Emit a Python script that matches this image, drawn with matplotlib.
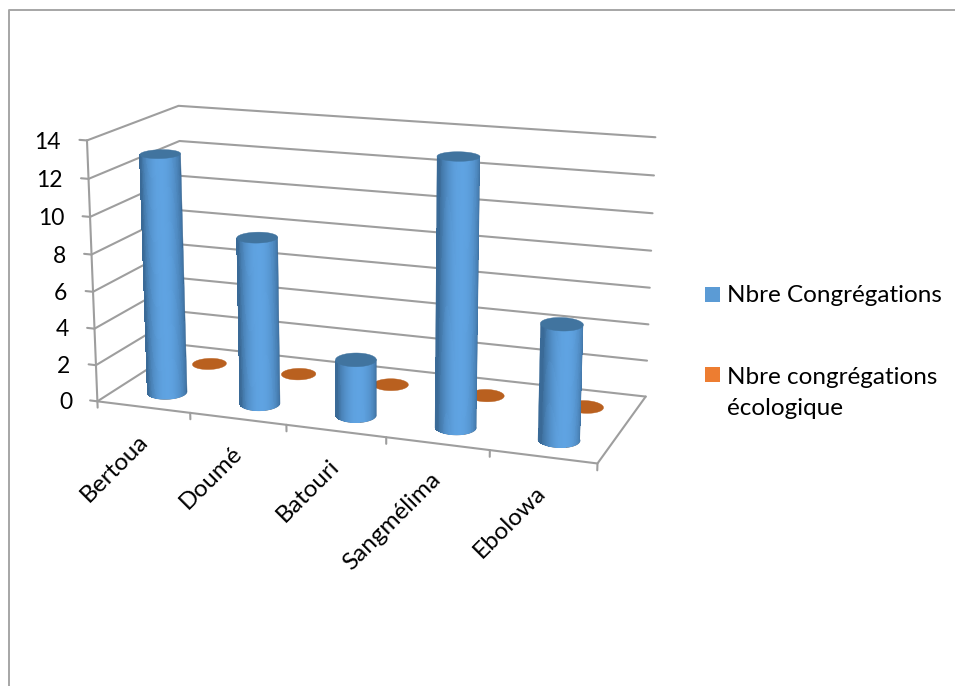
import numpy as np
import matplotlib
matplotlib.use('Agg')
import matplotlib.pyplot as plt
from matplotlib.lines import Line2D
from matplotlib.patches import Rectangle
from mpl_toolkits.mplot3d import proj3d
from mpl_toolkits.mplot3d.art3d import Poly3DCollection

categories = ['Bertoua', 'Doumé', 'Batouri', 'Sangmélima', 'Ebolowa']
congregations = [13, 9, 3, 14, 6]
ecologiques = [0, 0, 0, 0, 0]
value_ticks = [0, 2, 4, 6, 8, 10, 12, 14]
series_names = ['Nbre Congrégations', 'Nbre congrégations\nécologique']

plt.rcParams['font.family'] = ['Lato', 'DejaVu Sans']
W, H = 955, 686
fig = plt.figure(figsize=(W/100, H/100), dpi=100)
ax = fig.add_axes([63.3/W, 105.8/H, 601.7/W, 601.7/H], projection='3d', computed_zorder=False)
ax.set_xlim(0, 5); ax.set_ylim(0, 1); ax.set_zlim(0, 14)
ax.view_init(elev=14.9584, azim=-69.7665, roll=0.065)
ax.set_proj_type('persp', focal_length=0.594)
ax.set_box_aspect((1, 0.3954, 0.5184))
ax.set_axis_off()
ax.patch.set_alpha(0)

GREY = '#9e9e9e'
def line(xs, ys, zs):
    ax.plot(xs, ys, zs, color=GREY, lw=1.5, zorder=1, solid_capstyle='round', clip_on=False)

def label(x, y, z, s, **kw):
    u, v, _ = proj3d.proj_transform(x, y, z, ax.get_proj())
    ax.text2D(u, v, s, transform=ax.transData, color='black', clip_on=False, **kw)

for z in value_ticks:
    line([0, 0, 5], [0, 1, 1], [z, z, z])
    line([0, -0.08], [0, 0], [z, z])
    label(-0.28, 0, z - 0.22, str(z), ha='right', va='center', fontsize=16.5)
line([0, 0], [0, 0], [0, 14])
line([0, 5, 5], [0, 0, 1], [0, 0, 0])
n = len(categories)
for i in range(n + 1):
    line([i, i], [0, 0], [0, -0.35])
for i, c in enumerate(categories):
    label(i + 0.5, 0, -1.7, c, rotation=45, rotation_mode='anchor', ha='right', va='center', fontsize=17.5)

# axes of a disc lying on the floor whose outline is level on screen
def rim(cx, cy, t, a, b):
    return (cx + a*0.85*np.cos(t) - b*0.87*np.sin(t),
            cy + a*0.196*np.cos(t) + b*np.sin(t))

def disc(cx, cy, z, a, b, color, zo):
    t = np.linspace(0, 2*np.pi, 90)
    xs, ys = rim(cx, cy, t, a, b)
    poly = [list(zip(xs, ys, np.full_like(t, z)))]
    ax.add_collection3d(Poly3DCollection(poly, facecolors=color, edgecolors=color, linewidths=0.3, zorder=zo))

def cylinder(cx, cy, h, zo):
    a, b = 0.208, 0.1
    t = np.linspace(np.pi, np.pi*2, 61)
    xs, ys = rim(cx, cy, t, a, b)
    dark = np.array([0x3a, 0x6a, 0x97])/255; light = np.array([0x5f, 0xa3, 0xe2])/255
    # smooth outline of the whole side, then the shaded strips inside it
    outline = list(zip(xs, ys, np.zeros_like(xs))) + [(xs[-1], ys[-1], h)] + [(xs[0], ys[0], h)]
    ax.add_collection3d(Poly3DCollection([outline], facecolors=dark, edgecolors=dark, linewidths=0.3, zorder=zo))
    polys = []; cols = []
    for j in range(4, len(t) - 5):
        m = np.cos((t[j] + t[j + 1])/2)
        f = np.clip(1 - ((m - 0.08)/0.95)**2, 0, 1)**0.8
        cols.append(dark + (light - dark)*f)
        polys.append([(xs[j], ys[j], 0), (xs[j + 1], ys[j + 1], 0), (xs[j + 1], ys[j + 1], h), (xs[j], ys[j], h)])
    # the bottom rim stays smooth: strips stop at the rim with a light band drawn from the same outline
    side = Poly3DCollection(polys, facecolors=cols, edgecolors='none', linewidths=0, antialiased=False, zorder=zo + 0.2)
    side.set_snap(False)
    ax.add_collection3d(side)
    disc(cx, cy, h, a, b, '#41749f', zo + 0.5)

for i, v in enumerate(ecologiques):
    disc(i + 0.51, 0.75, v, 0.188, 0.088, '#b9601f', 2)
for i, v in enumerate(congregations):
    cylinder(i + 0.51, 0.25, v, 3 + i)

# frame
fig.add_artist(Line2D([9/W, 9/W, 1], [0, 1 - 10/H, 1 - 10/H], color='#a6a6a6', lw=1.4, transform=fig.transFigure))
# legend
def key(y, color):
    fig.add_artist(Rectangle((705/W, 1 - (y + 15)/H), 15/W, 15/H, color=color, transform=fig.transFigure, lw=0))
key(287, '#5b9bd5'); key(367, '#ed7d31')
fig.text(727/W, 1 - 296/H, series_names[0], fontsize=17.5, va='center', ha='left')
fig.text(727/W, 1 - 393/H, series_names[1], fontsize=17.5, va='center', ha='left', linespacing=1.55)

fig.savefig('out.png', dpi=100)
